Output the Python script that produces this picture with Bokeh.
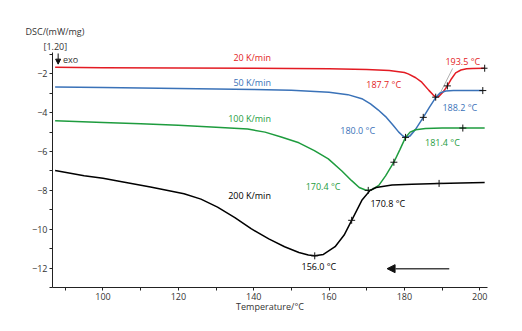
from bokeh.plotting import figure
from bokeh.models import Range1d, Label, Arrow, NormalHead, FixedTicker, ColumnDataSource, Title
from bokeh.core.properties import value
from bokeh.embed import file_html
from bokeh.resources import INLINE

# ---------------- data ----------------
red_T = [87.3, 100, 120, 140, 160, 170, 176, 180, 181, 183, 184.6, 186.5, 187.6, 188.3, 189.2, 190.2, 191.4, 192.5, 193.6, 195, 196.5, 198, 201.3]
red_v = [-1.66, -1.68, -1.70, -1.71, -1.74, -1.77, -1.83, -1.93, -2.0, -2.2, -2.43, -2.85, -3.08, -3.2, -3.15, -2.95, -2.62, -2.25, -1.95, -1.8, -1.74, -1.72, -1.71]

blue_T = [87.3, 100, 120, 140, 150, 160, 165, 168.7, 171, 173, 175, 177, 178.5, 179.6, 180.3, 181.5, 183, 185, 186.7, 188.3, 189.5, 191, 193, 200.8]
blue_v = [-2.67, -2.70, -2.75, -2.80, -2.85, -2.95, -3.07, -3.28, -3.55, -3.85, -4.2, -4.65, -5.0, -5.2, -5.27, -5.2, -4.85, -4.24, -3.7, -3.22, -2.98, -2.88, -2.86, -2.86]

green_T = [87.3, 100, 110, 120, 130, 138.4, 143, 147.3, 152, 156.1, 159.8, 163.4, 166, 168, 169.5, 170.4, 171.5, 173.2, 175, 177.2, 178.8, 180.3, 181.5, 183, 185.6, 190, 195.5, 201.3]
green_v = [-4.41, -4.5, -4.57, -4.65, -4.75, -4.84, -5.0, -5.25, -5.55, -5.95, -6.38, -7.0, -7.5, -7.85, -7.97, -8.0, -7.95, -7.74, -7.25, -6.55, -5.9, -5.27, -5.0, -4.88, -4.81, -4.79, -4.79, -4.79]

black_T = [87.3, 95, 100, 105, 112.6, 121.5, 126, 130.4, 135, 139.3, 144, 148.2, 152, 154.5, 156.2, 158.5, 161.6, 164, 166, 168.7, 170.9, 172.5, 176.7, 182, 189.2, 195, 201.3]
black_v = [-6.97, -7.25, -7.38, -7.55, -7.83, -8.17, -8.45, -8.86, -9.4, -9.97, -10.5, -10.9, -11.2, -11.33, -11.37, -11.3, -10.9, -10.3, -9.54, -8.51, -8.0, -7.85, -7.72, -7.68, -7.64, -7.62, -7.6]

# evaluation markers (+)
mark_T = [188.3, 191.4, 201.3, 180.3, 185.0, 200.8, 170.4, 177.2, 195.5, 156.2, 166.0, 189.2]
mark_v = [-3.2, -2.62, -1.71, -5.27, -4.24, -2.86, -8.0, -6.55, -4.79, -11.37, -9.54, -7.64]

# onset tangent construction lines
tan_T0 = [189.6, 187.9, 180.6, 169.2]
tan_v0 = [-2.95, -3.32, -5.32, -8.35]
tan_T1 = [192.8, 190.4, 183.0, 171.8]
tan_v1 = [-1.72, -2.86, -4.8, -7.84]

# texts
curve_labels = ["20 K/min", "50 K/min", "100 K/min", "200 K/min"]
curve_lab_T = [139.6, 139.6, 138.9, 138.9]
curve_lab_v = [-1.18, -2.43, -4.28, -8.25]

temp_labels = ["193.5 °C", "187.7 °C", "188.2 °C", "180.0 °C", "181.4 °C", "170.4 °C", "156.0 °C", "170.8 °C"]
temp_lab_T = [195.5, 174.5, 194.7, 167.6, 190.1, 158.4, 157.3, 175.6]
temp_lab_v = [-1.35, -2.56, -3.72, -4.91, -5.54, -7.79, -11.93, -8.66]

RED, BLUE, GREEN, BLACK = "#e31b23", "#3a72b8", "#1e9c3e", "#000000"
curve_colors = [RED, BLUE, GREEN, BLACK]
temp_colors = [RED, RED, BLUE, BLUE, GREEN, GREEN, BLACK, BLACK]

x_ticks = [100, 120, 140, 160, 180, 200]
y_ticks = [-12, -10, -8, -6, -4, -2]

FONT = "Open Sans"

p = figure(width=522, height=331, output_backend="svg", toolbar_location=None,
           x_range=Range1d(86.6, 202.05), y_range=Range1d(-13.0, -0.9),
           min_border_left=52, min_border_right=35, min_border_top=52, min_border_bottom=44)
p.outline_line_color = None
p.xgrid.visible = False
p.ygrid.visible = False
p.background_fill_color = "white"

# y-axis caption above the frame, as titles
p.title.text = "DSC/(mW/mg)"
p.title.align = "left"
p.title.offset = -27
p.title.text_font = FONT
p.title.text_font_size = "9px"
p.title.text_font_style = "normal"
p.title.text_color = "#333333"
p.title.standoff = 0
p.add_layout(Title(text="[1.20]", align="left", offset=-9, text_font=FONT, text_font_size="9px",
                   text_font_style="normal", text_color="#333333", standoff=0), "above")

for ax in (p.xaxis[0], p.yaxis[0]):
    ax.major_label_text_font = FONT
    ax.major_label_text_font_size = "9px"
    ax.major_label_text_color = "#333333"
    ax.axis_line_color = "#222222"
    ax.major_tick_line_color = "#222222"
    ax.minor_tick_line_color = "#222222"
    ax.major_tick_in = 0
    ax.major_tick_out = 3
    ax.minor_tick_in = 0
    ax.minor_tick_out = 3
    ax.major_label_standoff = 2

p.xaxis.ticker = FixedTicker(ticks=x_ticks, minor_ticks=[90, 110, 130, 150, 170, 190])
p.yaxis.ticker = FixedTicker(ticks=y_ticks, minor_ticks=[-13, -11, -9, -7, -5, -3, -1])
p.xaxis.axis_label = "Temperature/°C"
p.xaxis.axis_label_text_font = FONT
p.xaxis.axis_label_text_font_size = "9px"
p.xaxis.axis_label_text_font_style = "normal"
p.xaxis.axis_label_text_color = "#333333"
p.xaxis.axis_label_standoff = -3

# tangents
for a, b, c, d in zip(tan_T0, tan_v0, tan_T1, tan_v1):
    p.line([a, c], [b, d], line_color="#b0b0b0", line_width=1)

p.line(red_T, red_v, line_color=RED, line_width=1.5)
p.line(blue_T, blue_v, line_color=BLUE, line_width=1.5)
p.line(green_T, green_v, line_color=GREEN, line_width=1.5)
p.line(black_T, black_v, line_color=BLACK, line_width=1.5)

p.scatter(mark_T, mark_v, marker="cross", size=7, line_color="#111111", line_width=1)

src1 = ColumnDataSource(dict(x=curve_lab_T, y=curve_lab_v, t=curve_labels, c=curve_colors))
p.text(x="x", y="y", text="t", text_color="c", source=src1, text_font=value(FONT),
       text_font_size="9px", text_align="center", text_baseline="middle")
src2 = ColumnDataSource(dict(x=temp_lab_T, y=temp_lab_v, t=temp_labels, c=temp_colors))
p.text(x="x", y="y", text="t", text_color="c", source=src2, text_font=value(FONT),
       text_font_size="9px", text_align="center", text_baseline="middle")

# direction arrow
p.add_layout(Arrow(end=NormalHead(size=8, fill_color="#111111", line_color="#111111"),
                   x_start=191.9, y_start=-12.03, x_end=175.4, y_end=-12.03,
                   line_color="#444444", line_width=1.5))
# exo arrow
p.add_layout(Arrow(end=NormalHead(size=5, fill_color="#111111", line_color="#111111"),
                   x_start=88.1, y_start=-0.95, x_end=88.1, y_end=-1.5,
                   line_color="#111111", line_width=1))
p.add_layout(Label(x=89.4, y=-1.27, text="exo", text_font=FONT, text_font_size="9px",
                   text_color="#333333", text_baseline="middle", text_align="left"))

open("out.html", "w").write(file_html(p, INLINE))
